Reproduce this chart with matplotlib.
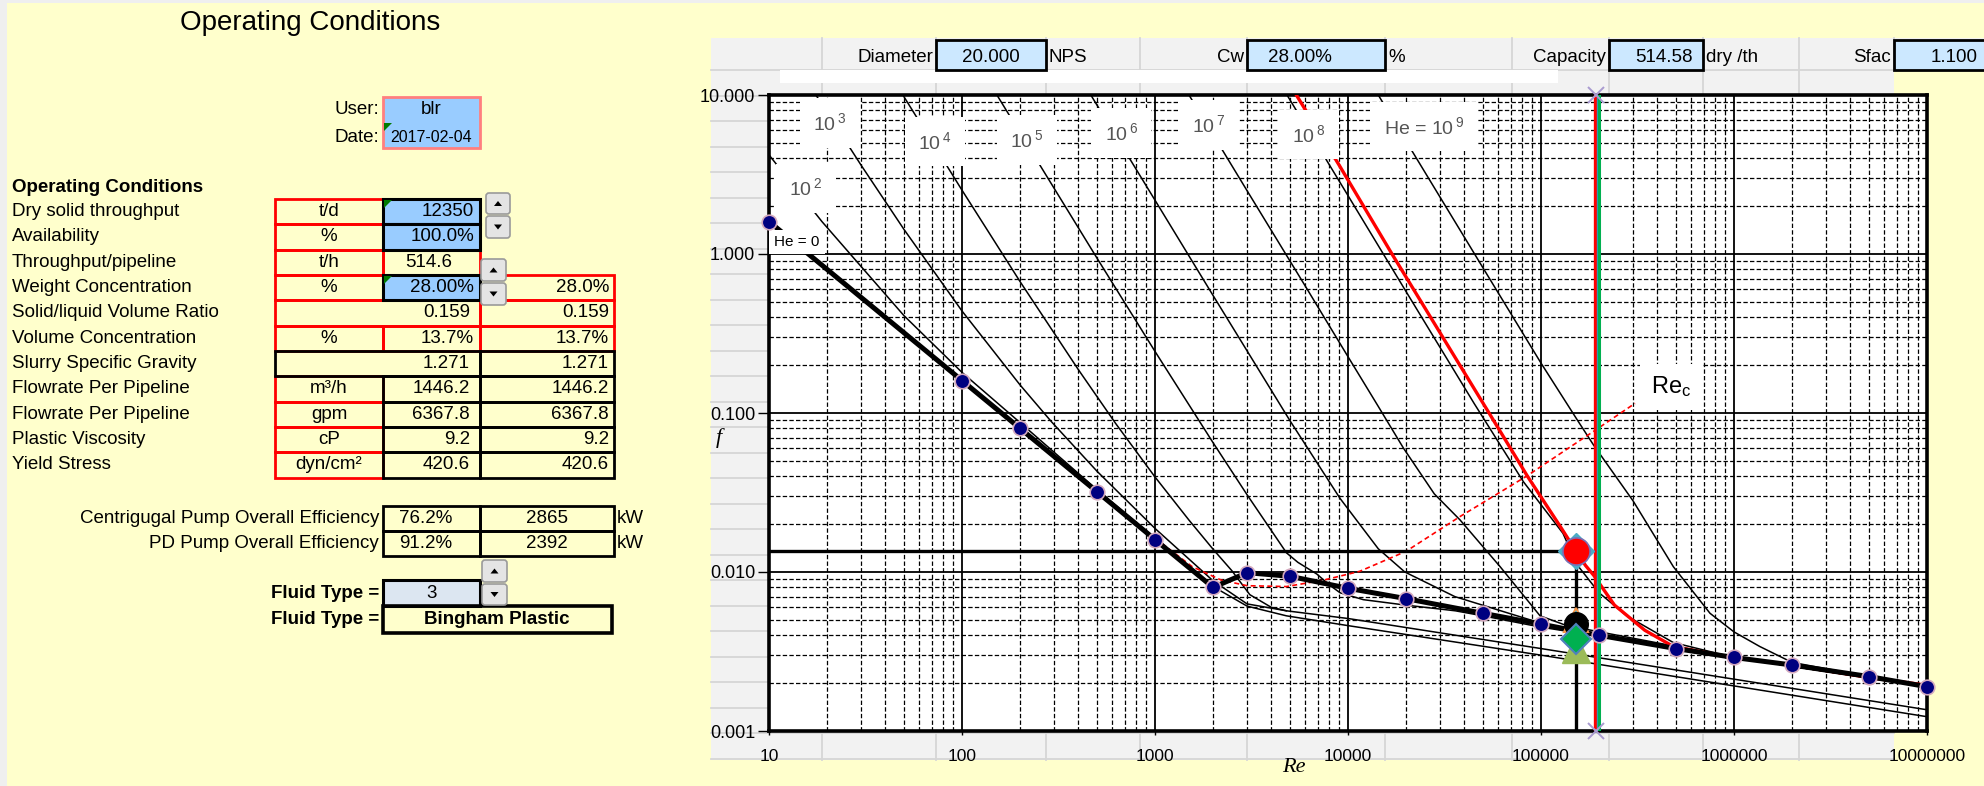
import matplotlib
matplotlib.use('Agg')
import matplotlib.pyplot as plt
import matplotlib.patches as mpatches
from matplotlib import font_manager
from matplotlib.ticker import LogLocator, FixedLocator, FixedFormatter, NullFormatter
import numpy as np

plt.rcParams['font.family'] = ['Liberation Sans', 'DejaVu Sans']
plt.rcParams['mathtext.fontset'] = 'custom'
plt.rcParams['mathtext.rm'] = 'Liberation Sans'
plt.rcParams['mathtext.default'] = 'regular'

names = {f.name for f in font_manager.fontManager.ttflist}
NARROW = 'Liberation Sans Narrow' if 'Liberation Sans Narrow' in names else 'Liberation Sans'

# ---------------- data ----------------
# left table
row_labels = ['Dry solid throughput', 'Availability', 'Throughput/pipeline', 'Weight Concentration',
              'Solid/liquid Volume Ratio', 'Volume Concentration', 'Slurry Specific Gravity',
              'Flowrate Per Pipeline', 'Flowrate Per Pipeline', 'Plastic Viscosity', 'Yield Stress']
row_units = ['t/d', '%', 't/h', '%', '', '%', '', 'm³/h', 'gpm', 'cP', 'dyn/cm²']
row_values = ['12350', '100.0%', '514.6', '28.00%', '0.159', '13.7%', '1.271', '1446.2', '6367.8', '9.2', '420.6']
row_values2 = ['', '', '', '28.0%', '0.159', '13.7%', '1.271', '1446.2', '6367.8', '9.2', '420.6']
pump_labels = ['Centrigugal Pump Overall Efficiency', 'PD Pump Overall Efficiency']
pump_eff = ['76.2%', '91.2%']
pump_kw = ['2865', '2392']

# header above chart
hdr_labels = ['Diameter', 'Cw', 'Capacity', 'Sfac']
hdr_values = ['20.000', '28.00%', '514.58', '1.100']
hdr_units = ['NPS', '%', 'dry /th', '']

# operating curve (blue dots)
re_pts = [10, 100, 200, 500, 1000, 2000, 3000, 5000, 1e4, 2e4, 5e4, 1e5, 2e5, 5e5, 1e6, 2e6, 5e6, 1e7]
f_pts = [1.6, 0.16, 0.08, 0.032, 0.016, 0.008, 0.0099, 0.0094, 0.0079, 0.0068, 0.0055,
         0.0047, 0.0040, 0.0033, 0.0029, 0.0026, 0.0022, 0.0019]

# Hedstrom number curves
he2_re = [10, 18.8, 50, 100, 200, 500, 1000, 2000, 3000, 4800, 1e4, 1e5, 1e7]
he2_f = [4.2, 1.6, 0.41, 0.18, 0.087, 0.033, 0.0163, 0.0081, 0.0061, 0.0053, 0.0046, 0.0030, 0.00123]
he3_re = [17.5, 30, 50, 100, 200, 291, 500, 1000, 2000, 3000, 4800, 1e4, 1e5, 1e7]
he3_f = [10, 3.62, 1.43, 0.438, 0.150, 0.088, 0.0431, 0.0188, 0.0088, 0.0063, 0.0057, 0.0051, 0.0033, 0.00136]
he4_re = [49.4, 100, 200, 400, 625, 1000, 1500, 2000, 2500, 3100, 4000, 4800]
he4_f = [10, 2.52, 0.67, 0.188, 0.086, 0.0396, 0.0212, 0.0139, 0.0102, 0.0072, 0.0060, 0.0057]
he5_re = [151.7, 200, 500, 1000, 2000, 3000, 4800, 5500, 6900, 8000, 9100, 12000, 19700, 36000,
          5e4, 1e5, 1e6, 1e7]
he5_f = [10, 5.78, 0.944, 0.244, 0.065, 0.0306, 0.0132, 0.0115, 0.0097, 0.0083, 0.0074, 0.0067,
         0.0062, 0.0057, 0.0053, 0.0045, 0.0029, 0.0019]
he6_re = [465, 1000, 2000, 5000, 9100, 14350, 19700, 35800, 98000, 150000, 1e6, 1e7]
he6_f = [10, 2.18, 0.548, 0.0896, 0.029, 0.014, 0.0100, 0.0070, 0.0048, 0.0043, 0.0029, 0.0019]
he7_re = [1500, 3000, 6000, 10000, 14350, 19400, 28000, 38000, 61400, 98900, 136000, 1e6, 1e7]
he7_f = [10, 2.5, 0.63, 0.226, 0.11, 0.06, 0.031, 0.0213, 0.0108, 0.0053, 0.0046, 0.0029, 0.0019]
he8_re = [4830, 10000, 20000, 45000, 81000, 130000, 153000, 200000, 278000, 485000, 1e6, 1e7]
he8_f = [10, 2.33, 0.58, 0.115, 0.037, 0.0175, 0.0112, 0.0074, 0.0053, 0.0036, 0.0029, 0.0019]
he9_re = [14350, 21100, 50000, 100000, 154000, 187000, 300000, 485000, 751000, 1e6, 1.36e6, 2e6, 5e6, 1e7]
he9_f = [10, 4.6, 0.82, 0.206, 0.0906, 0.063, 0.028, 0.0108, 0.0055, 0.0042, 0.0034, 0.0027, 0.0022, 0.0019]

# system curve (red)
sys_re = [5400, 9100, 16900, 36600, 53800, 85100, 127000, 152000, 170000, 188000, 240000, 345000,
          485000, 900000, 2e6, 5e6, 1e7]
sys_f = [10, 3.54, 1.0, 0.215, 0.1, 0.040, 0.019, 0.0135, 0.011, 0.0095, 0.0062, 0.0043,
         0.0034, 0.00295, 0.0026, 0.00217, 0.00194]

# critical Reynolds curve (red dashed)
rec_re = [270, 600, 1000, 1560, 2200, 3000, 4800, 7500, 11500, 20000, 38000, 84000, 187000, 307000]
rec_f = [0.059, 0.0267, 0.0163, 0.0108, 0.0089, 0.0082, 0.0081, 0.0089, 0.0101, 0.0135, 0.0223,
         0.040, 0.0766, 0.115]

# operating point and markers
op_re = 152000
op_f = 0.0135
f_black = 0.0047
f_cyan = 0.0050
f_diamond = 0.0038
f_tri = 0.0033
re_red_v = 190000
re_green_v = 200000

xtick_vals = [10, 100, 1000, 1e4, 1e5, 1e6, 1e7]
xtick_labels = ['10', '100', '1000', '10000', '100000', '1000000', '10000000']
ytick_vals = [0.001, 0.01, 0.1, 1, 10]
ytick_labels = ['0.001', '0.010', '0.100', '1.000', '10.000']

# ---------------- figure ----------------
W, H = 1984, 786
fig = plt.figure(figsize=(W / 100, H / 100), dpi=100)
fig.patch.set_facecolor('#FFFFCC')
bg = fig.add_axes([0, 0, 1, 1])
bg.set_xlim(0, W)
bg.set_ylim(H, 0)
bg.axis('off')


def rect(x0, y0, x1, y1, fc='none', ec='none', lw=1.5, z=2):
    bg.add_patch(mpatches.Rectangle((x0, y0), x1 - x0, y1 - y0, facecolor=fc,
                                    edgecolor=ec, linewidth=lw, zorder=z))


def txt(x, y, s, ha='left', size=13.5, **kw):
    bg.text(x, y, s, ha=ha, va='center', fontsize=size, zorder=5, **kw)


def corner(x0, y0):
    bg.add_patch(mpatches.Polygon([(x0 + 1, y0 + 1), (x0 + 9, y0 + 1), (x0 + 1, y0 + 9)],
                                  closed=True, fc='#007A00', ec='none', zorder=6))


def spinner(x0, y0, x1, y1, up):
    bg.add_patch(mpatches.FancyBboxPatch((x0, y0), x1 - x0, y1 - y0,
                                         boxstyle='round,pad=0,rounding_size=3',
                                         fc='#E4E4E4', ec='#9A9A9A', lw=1.2, zorder=6))
    cx, cy = (x0 + x1) / 2, (y0 + y1) / 2
    if up:
        pts = [(cx - 4, cy + 2.5), (cx + 4, cy + 2.5), (cx, cy - 2.5)]
    else:
        pts = [(cx - 4, cy - 2.5), (cx + 4, cy - 2.5), (cx, cy + 2.5)]
    bg.add_patch(mpatches.Polygon(pts, closed=True, fc='black', ec='none', zorder=7))


# left strips
rect(0, 0, 7, H, fc='#EFEFEF', z=1)
rect(0, 0, W, 3, fc='#EFEFEF', z=1)

# title + user
txt(310, 23, 'Operating Conditions', ha='center', size=20)
txt(379, 110, 'User:', ha='right')
txt(379, 137, 'Date:', ha='right')
rect(383, 97, 480, 148, fc='#99CCFF', ec='#FF7F7F', lw=2)
txt(431, 110, 'blr', ha='center')
txt(431, 137, '2017-02-04', ha='center', size=11.5)
corner(383, 122)

txt(12, 187, 'Operating Conditions', weight='bold')

# table
RED, BLK = '#FF0000', 'black'
ux0, vx0, wx0, wx1 = 275, 383, 480, 614
rh = 25.33
for i, lab in enumerate(row_labels):
    y0 = 199 + rh * i
    y1 = y0 + rh
    yc = (y0 + y1) / 2
    txt(12, yc, lab)
    if i == 4:
        rect(ux0, y0, wx0, y1, ec=RED, lw=2)
    elif i == 6:
        rect(ux0, y0, wx0, y1, ec=BLK, lw=2, z=3)
    else:
        rect(ux0, y0, vx0, y1, ec=RED, lw=2)
    if i in (0, 1, 3):
        rect(vx0, y0, wx0, y1, fc='#99CCFF', ec=BLK, lw=2.2, z=3)
    elif i in (2, 5):
        rect(vx0, y0, wx0, y1, ec=RED, lw=2)
    elif i >= 7:
        rect(vx0, y0, wx0, y1, ec=BLK, lw=2, z=3)
    if i in (3, 4, 5):
        rect(wx0, y0, wx1, y1, ec=RED, lw=2)
    elif i >= 6:
        rect(wx0, y0, wx1, y1, ec=BLK, lw=2, z=3)
    txt((ux0 + vx0) / 2, yc, row_units[i], ha='center')
    if i == 2:
        txt(429, yc, row_values[i], ha='center')
    else:
        txt(474 if i in (0, 1, 3, 5) else 470, yc, row_values[i], ha='right')
    if row_values2[i]:
        txt(609, yc, row_values2[i], ha='right')
corner(vx0, 199)
corner(vx0, 199 + rh * 3)

spinner(486, 193, 510, 214, True)
spinner(486, 216, 510, 238, False)
spinner(481, 259, 506, 281, True)
spinner(481, 283, 506, 305, False)

# pump efficiencies
for k, lab in enumerate(pump_labels):
    y0 = 506 + 25 * k
    yc = y0 + 12.5
    txt(379, yc, lab, ha='right')
    rect(vx0, y0, wx0, y0 + 25, ec=BLK, lw=2, z=3)
    rect(wx0, y0, wx1, y0 + 25, ec=BLK, lw=2, z=3)
    txt(426, yc, pump_eff[k], ha='center')
    txt(547, yc, pump_kw[k], ha='center')
    txt(617, yc, 'kW')

# fluid type
spinner(482, 560, 507, 582, True)
spinner(482, 584, 507, 605, False)
rect(383, 580, 480, 606, fc='#DCE6F1', ec=BLK, lw=2.2, z=3)
rect(383, 606, 612, 633, ec=BLK, lw=2.6, z=3)
txt(379, 594, 'Fluid Type =', ha='right', weight='bold')
txt(379, 620, 'Fluid Type =', ha='right', weight='bold')
txt(432, 594, '3', ha='center')
txt(497, 620, 'Bingham Plastic', ha='center', weight='bold')

# spreadsheet area behind chart
rect(711, 38, 1894, 760, fc='#F2F2F2', z=1)
rect(1894, 38, W, 70, fc='#F2F2F2', z=1)
for cx in [822, 936, 1046, 1140, 1247, 1385, 1512, 1609, 1703, 1799, 1894]:
    bg.plot([cx, cx], [38, 760 if cx < 1894 else 70], color='#D6D6D6', lw=1.3, zorder=1.5)
for ry in np.arange(70, 761, 25.5):
    bg.plot([711, 1894], [ry, ry], color='#D6D6D6', lw=1.3, zorder=1.5)
rect(780, 70, 1558, 83, fc='white', z=1.6)

# header boxes
hdr_box = [(936, 1046), (1247, 1385), (1609, 1703), (1894, 1995)]
for k in range(4):
    bx0, bx1 = hdr_box[k]
    rect(bx0, 40, bx1, 70, fc='#CCE8FF', ec=BLK, lw=2, z=3)
    txt(bx0 - 3, 58, hdr_labels[k], ha='right')
    if hdr_units[k]:
        txt(bx1 + 3, 58, hdr_units[k])
txt(991, 58, hdr_values[0], ha='center')
txt(1300, 58, hdr_values[1], ha='center')
txt(1693, 58, hdr_values[2], ha='right')
txt(1978, 58, hdr_values[3], ha='right')

# axis titles
txt(1294, 767, 'Re', ha='center', size=16, family='Liberation Serif', style='italic')
txt(719, 438, 'f', ha='center', size=16, family='Liberation Serif', style='italic')

# ---------------- chart ----------------
L, R, T, B = 769, 1927, 95, 731
ax = fig.add_axes([L / W, 1 - B / H, (R - L) / W, (B - T) / H])
ax.set_facecolor('white')
ax.set_xscale('log')
ax.set_yscale('log')
ax.set_xlim(10, 1e7)
ax.set_ylim(1e-3, 10)

ax.xaxis.set_major_locator(FixedLocator(xtick_vals))
ax.xaxis.set_major_formatter(FixedFormatter(xtick_labels))
ax.yaxis.set_major_locator(FixedLocator(ytick_vals))
ax.yaxis.set_major_formatter(FixedFormatter(ytick_labels))
for a in (ax.xaxis, ax.yaxis):
    a.set_minor_locator(LogLocator(base=10, subs=np.arange(2, 10), numticks=30))
    a.set_minor_formatter(NullFormatter())
ax.tick_params(which='minor', length=0)
ax.tick_params(axis='y', which='major', length=8, width=1, pad=2, labelsize=13)
ax.tick_params(axis='x', which='major', length=3, width=1, pad=10, labelsize=12.5)
for lab in ax.get_xticklabels():
    lab.set_family(NARROW)
ax.grid(which='major', color='black', lw=1.3, ls='-')
ax.grid(which='minor', color='black', lw=0.9, ls=(0, (3.5, 1.8)))
ax.set_axisbelow(True)
for s in ax.spines.values():
    s.set_linewidth(2.6)

# Hedstrom curves
for cr, cf in [(he2_re, he2_f), (he3_re, he3_f), (he4_re, he4_f), (he5_re, he5_f), (he6_re, he6_f),
               (he7_re, he7_f), (he8_re, he8_f), (he9_re, he9_f)]:
    ax.plot(cr, cf, color='black', lw=1.1, zorder=2)

# critical Re curve
ax.plot(rec_re, rec_f, color='red', lw=1.2, ls=(0, (3, 2)), zorder=3)

# operating lines
ax.plot([10, op_re], [op_f, op_f], color='black', lw=2.4, zorder=3)
ax.plot([op_re, op_re], [1e-3, op_f], color='black', lw=2.4, zorder=3)

# system curve
ax.plot(sys_re, sys_f, color='red', lw=2.4, zorder=5)

# vertical capacity lines
ax.axvline(re_red_v, color='red', lw=2.4, zorder=5)
ax.axvline(re_red_v * 1.025, color='#2E9AB5', lw=1.0, zorder=5)
ax.axvline(re_green_v, color='#00B050', lw=2.2, zorder=5)
for fy in (10, 1e-3):
    ax.plot([re_red_v * 1.01], [fy], marker='x', ms=11, mew=1.4, color='#A99BD0', clip_on=False, zorder=12)

# operating curve line
ax.plot(re_pts, f_pts, color='black', lw=3.6, zorder=8)

# labels on the chart
he_labels = ['10$^{\\,2}$', '10$^{\\,3}$', '10$^{\\,4}$', '10$^{\\,5}$', '10$^{\\,6}$',
             '10$^{\\,7}$', '10$^{\\,8}$', 'He = 10$^{\\,9}$']
he_label_re = [15.5, 20.7, 72.4, 217, 667, 1884, 6280, 24800]
he_label_f = [2.58, 6.67, 5.07, 5.21, 5.77, 6.48, 5.61, 6.32]
for s, lr, lf in zip(he_labels, he_label_re, he_label_f):
    ax.text(lr, lf, s, ha='center', va='center', fontsize=14, color='#555555', zorder=7,
            bbox=dict(boxstyle='square,pad=0.7', fc='white', ec='none'))
ax.text(13.9, 1.19, 'He = 0', ha='center', va='center', fontsize=11, family=NARROW, zorder=8.5,
        bbox=dict(boxstyle='square,pad=0.35', fc='white', ec='none'))
ax.text(472000, 0.146, 'Re$_{c}$', ha='center', va='center', fontsize=17, zorder=7,
        bbox=dict(boxstyle='square,pad=0.45', fc='white', ec='none'))

# dots
ax.plot(re_pts, f_pts, ls='none', marker='o', ms=10.5, mfc='#000080', mec='#D4A9BE', mew=1.2,
        zorder=9, clip_on=False)

# operating point markers
ax.plot([op_re], [op_f], marker='D', ms=18, mfc='#4BACC6', mec='#4BACC6', zorder=10)
ax.plot([op_re], [op_f], marker='o', ms=19.5, mfc='red', mec='#7A6FB5', mew=1.2, zorder=11)
ax.plot([op_re], [f_cyan], marker='^', ms=17, mfc='#00B0F0', mec='#F79646', mew=1.5, zorder=10)
ax.plot([op_re], [f_black], marker='o', ms=17, mfc='black', mec='black', zorder=11)
ax.plot([op_re], [f_tri], marker='^', ms=20, mfc='#9BBB59', mec='#9BBB59', zorder=11.5)
ax.plot([op_re], [f_diamond], marker='D', ms=15.5, mfc='#00B050', mec='#4F81BD', mew=1.5, zorder=12)

fig.savefig('out.png', dpi=100, facecolor=fig.get_facecolor())
